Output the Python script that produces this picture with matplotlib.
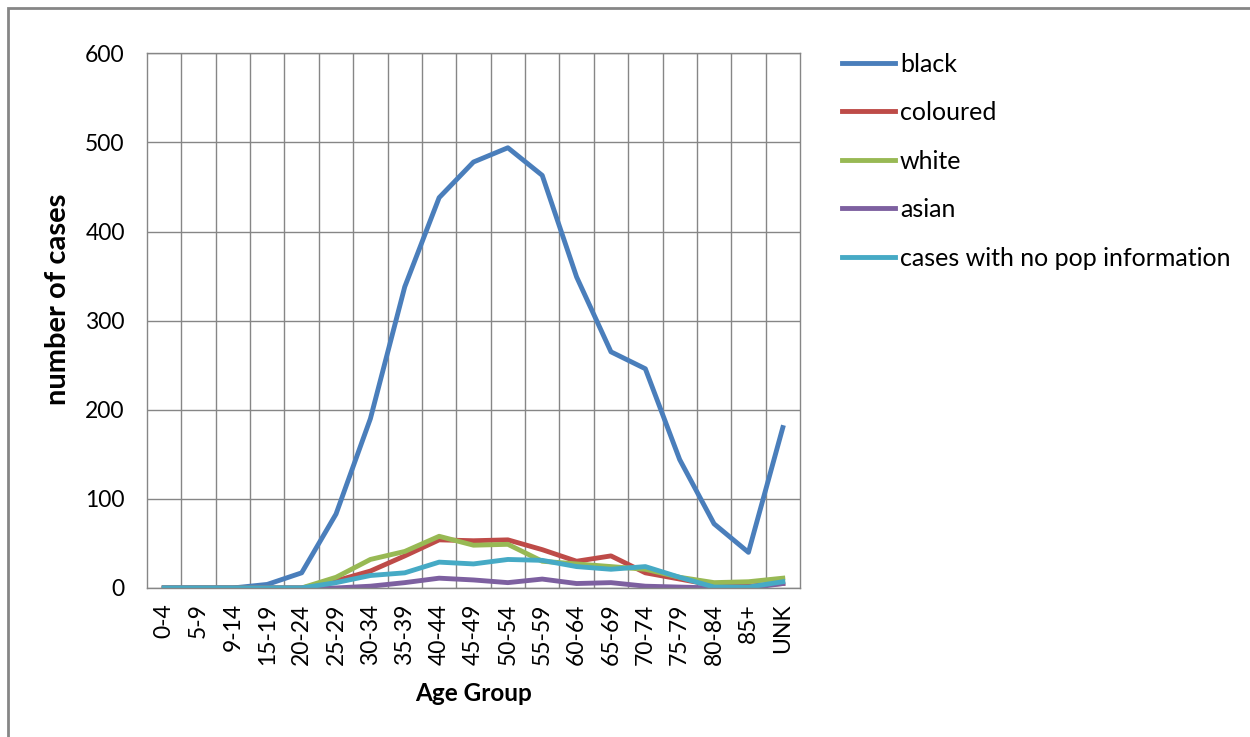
import numpy as np
import matplotlib.pyplot as plt
from matplotlib.patches import Rectangle

plt.rcParams['font.family'] = ['Lato', 'DejaVu Sans']

age_groups = ['0-4', '5-9', '9-14', '15-19', '20-24', '25-29', '30-34', '35-39',
              '40-44', '45-49', '50-54', '55-59', '60-64', '65-69', '70-74',
              '75-79', '80-84', '85+', 'UNK']

black = [0, 0, 0, 4, 17, 83, 190, 338, 438, 478, 494, 463, 349, 265, 246, 144, 72, 40, 180]
coloured = [0, 0, 0, 0, 0, 8, 19, 36, 54, 53, 54, 43, 30, 36, 17, 10, 3, 2, 5]
white = [0, 0, 0, 0, 0, 12, 32, 41, 58, 48, 49, 30, 27, 24, 21, 12, 6, 7, 11]
asian = [0, 0, 0, 0, 0, 0, 2, 6, 11, 9, 6, 10, 5, 6, 2, 1, 0, 0, 5]
no_pop = [0, 0, 0, 0, 0, 6, 14, 17, 29, 27, 32, 31, 24, 21, 24, 12, 1, 1, 7]

series = [
    ('black', black, '#4A7EBB'),
    ('coloured', coloured, '#BE4B48'),
    ('white', white, '#98B954'),
    ('asian', asian, '#7D60A0'),
    ('cases with no pop information', no_pop, '#46AAC5'),
]

fig = plt.figure(figsize=(12.5, 7.37), dpi=100)
ax = fig.add_axes([0.1176, 0.2022, 0.5224, 0.7255])

x = np.arange(len(age_groups))
for name, vals, col in series:
    ax.plot(x, vals, color=col, lw=3.5, label=name, solid_joinstyle='round')

ax.set_xlim(-0.5, len(age_groups) - 0.5)
ax.set_ylim(0, 600)
ax.set_yticks(range(0, 601, 100))
ax.set_xticks(x)
ax.set_xticklabels(age_groups, rotation=90)
ax.set_xticks(np.arange(0.5, len(age_groups) - 1, 1), minor=True)
ax.tick_params(axis='x', which='both', length=0, labelsize=16.5, pad=11)
ax.tick_params(axis='y', length=0, labelsize=16.5, pad=16)
ax.grid(True, axis='y', which='major', color='#868686', lw=1)
ax.grid(True, axis='x', which='minor', color='#868686', lw=1)
ax.set_axisbelow(True)
for s in ax.spines.values():
    s.set_color('#868686')
    s.set_linewidth(1)

ax.set_xlabel('Age Group', fontsize=17.5, fontweight='bold', labelpad=12)
ax.set_ylabel('number of cases', fontsize=21, fontweight='bold')
ax.yaxis.set_label_coords(-0.116, 0.54)

fig.legend(loc='upper left', bbox_to_anchor=(0.6736, 0.9285), frameon=False,
           fontsize=18, handlelength=2.12, handletextpad=0.2, labelspacing=1.02,
           borderpad=0, borderaxespad=0)

# outer chart border
fig.patches.append(Rectangle((8 / 1250, -0.1), 1.2, 1 - 8 / 737 + 0.1,
                             transform=fig.transFigure, fill=False,
                             edgecolor='#868686', lw=2))

fig.savefig('out.png', dpi=100)
